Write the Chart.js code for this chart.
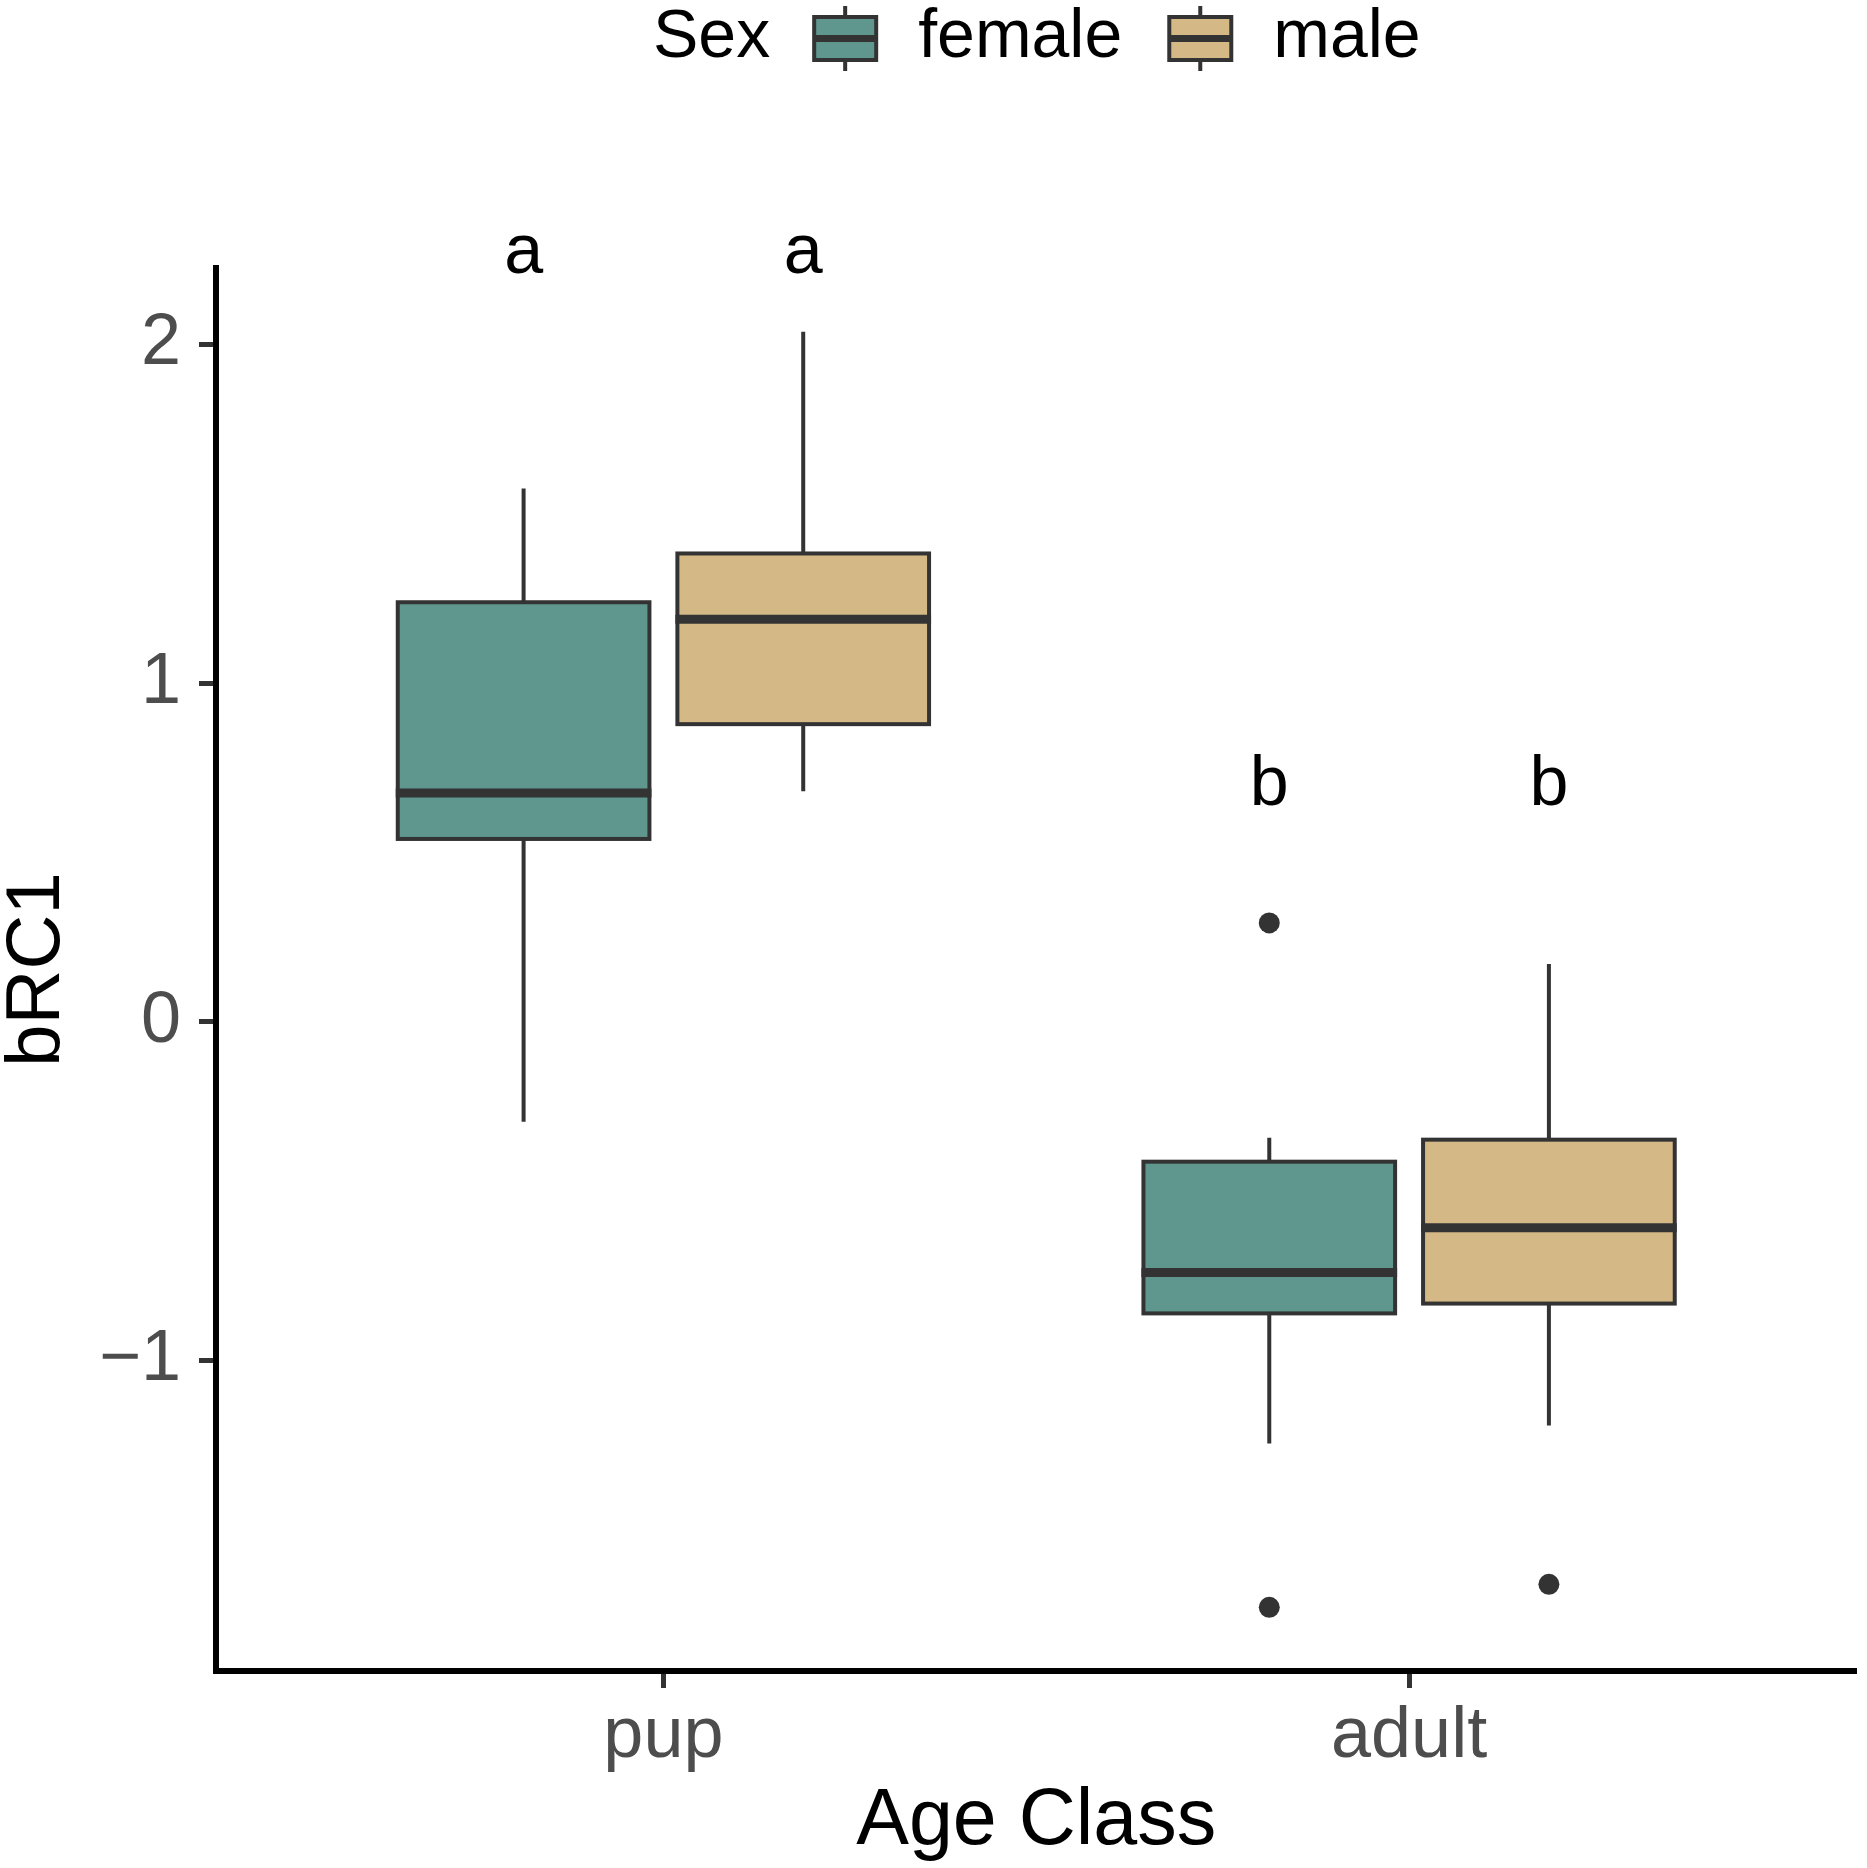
<!DOCTYPE html>
<html>
<head>
<meta charset="utf-8">
<script src="https://cdn.jsdelivr.net/npm/chart.js@4.4.0/dist/chart.umd.min.js"></script>
<style>
  html, body { margin: 0; padding: 0; background: #ffffff; }
  canvas { display: block; }
</style>
</head>
<body>
<canvas id="c" width="1867" height="1868"></canvas>
<script>
// ---------------- data ----------------
const ageClasses = ['pup', 'adult'];
const sexGroups = ['female', 'male'];

const femaleLowerWhisker = [-0.295, -1.245];
const femaleQ1           = [0.540, -0.861];
const femaleMedian       = [0.676, -0.740];
const femaleQ3           = [1.239, -0.413];
const femaleUpperWhisker = [1.575, -0.342];
const femaleOutliers     = [[], [0.292, -1.729]];

const maleLowerWhisker = [0.681, -1.192];
const maleQ1           = [0.879, -0.832];
const maleMedian       = [1.189, -0.608];
const maleQ3           = [1.383, -0.348];
const maleUpperWhisker = [2.038, 0.171];
const maleOutliers     = [[], [-1.661]];

const femaleLetters = ['a', 'b'];
const maleLetters   = ['a', 'b'];
const letterY       = [2.21, 0.64];

const yTickValues = [-1, 0, 1, 2];
const yLimits = [-1.917, 2.226];

// ---------------- style ----------------
const FONT = "'Liberation Sans', Arial, Helvetica, sans-serif";
const OUTLINE = '#333333';
const femaleColor = '#5F968E';
const maleColor = '#D4B886';
const DODGE = 0.1875;
const HALF_BOX = 0.16875;

const series = [
  { name: sexGroups[0], offset: -DODGE, color: femaleColor, lo: femaleLowerWhisker, q1: femaleQ1,
    med: femaleMedian, q3: femaleQ3, hi: femaleUpperWhisker, out: femaleOutliers, letters: femaleLetters },
  { name: sexGroups[1], offset: DODGE, color: maleColor, lo: maleLowerWhisker, q1: maleQ1,
    med: maleMedian, q3: maleQ3, hi: maleUpperWhisker, out: maleOutliers, letters: maleLetters }
];

const outlierDatasets = series.map(s => ({
  label: s.name,
  data: ageClasses.flatMap((a, i) => s.out[i].map(v => ({ x: i + 1 + s.offset, y: v }))),
  pointRadius: 10.5,
  pointHoverRadius: 10.5,
  pointBackgroundColor: OUTLINE,
  pointBorderWidth: 0,
  showLine: false,
  clip: false
}));

function fmtTick(v) {
  return v < 0 ? '\u2212' + Math.abs(v) : String(v);
}

function drawKey(ctx, x, color) {
  const w = 62, top = 17, bot = 60, cx = x + w / 2;
  ctx.strokeStyle = OUTLINE;
  ctx.lineWidth = 4;
  ctx.beginPath();
  ctx.moveTo(cx, 6); ctx.lineTo(cx, top);
  ctx.moveTo(cx, bot); ctx.lineTo(cx, 71);
  ctx.stroke();
  ctx.fillStyle = color;
  ctx.fillRect(x, top, w, bot - top);
  ctx.strokeRect(x, top, w, bot - top);
  ctx.lineWidth = 7;
  ctx.beginPath();
  ctx.moveTo(x, (top + bot) / 2); ctx.lineTo(x + w, (top + bot) / 2);
  ctx.stroke();
}

const boxPlugin = {
  id: 'boxes',
  beforeDatasetsDraw(chart) {
    const { ctx } = chart;
    const x = chart.scales.x, y = chart.scales.y;
    ctx.save();
    series.forEach(s => {
      ageClasses.forEach((age, i) => {
        const c = i + 1 + s.offset;
        const xc = x.getPixelForValue(c);
        const xl = x.getPixelForValue(c - HALF_BOX);
        const xr = x.getPixelForValue(c + HALF_BOX);
        const yLo = y.getPixelForValue(s.lo[i]);
        const yQ1 = y.getPixelForValue(s.q1[i]);
        const yMed = y.getPixelForValue(s.med[i]);
        const yQ3 = y.getPixelForValue(s.q3[i]);
        const yHi = y.getPixelForValue(s.hi[i]);
        ctx.strokeStyle = OUTLINE;
        ctx.lineCap = 'butt';
        ctx.lineWidth = 4;
        ctx.beginPath();
        ctx.moveTo(xc, yHi); ctx.lineTo(xc, yQ3);
        ctx.moveTo(xc, yQ1); ctx.lineTo(xc, yLo);
        ctx.stroke();
        ctx.fillStyle = s.color;
        ctx.fillRect(xl, yQ3, xr - xl, yQ1 - yQ3);
        ctx.strokeRect(xl, yQ3, xr - xl, yQ1 - yQ3);
        ctx.lineWidth = 9;
        ctx.beginPath();
        ctx.moveTo(xl - 2, yMed); ctx.lineTo(xr + 2, yMed);
        ctx.stroke();
      });
    });
    ctx.restore();
  },
  afterDraw(chart) {
    const { ctx } = chart;
    const x = chart.scales.x, y = chart.scales.y;
    ctx.save();
    // significance letters
    ctx.fillStyle = '#000000';
    ctx.font = '70px ' + FONT;
    ctx.textAlign = 'center';
    ctx.textBaseline = 'alphabetic';
    series.forEach(s => {
      ageClasses.forEach((age, i) => {
        ctx.fillText(s.letters[i], x.getPixelForValue(i + 1 + s.offset), y.getPixelForValue(letterY[i]));
      });
    });
    // legend
    ctx.font = '68px ' + FONT;
    ctx.textAlign = 'left';
    let lx = 653;
    const base = 57;
    ctx.fillStyle = '#000000';
    ctx.fillText('Sex', lx, base);
    lx += ctx.measureText('Sex').width + 44;
    series.forEach((s, k) => {
      drawKey(ctx, lx, s.color);
      lx += 62 + 42;
      ctx.fillStyle = '#000000';
      ctx.font = '68px ' + FONT;
      ctx.fillText(s.name, lx, base);
      lx += ctx.measureText(s.name).width + 47;
    });
    ctx.restore();
  }
};

new Chart(document.getElementById('c'), {
  type: 'scatter',
  data: { datasets: outlierDatasets },
  plugins: [boxPlugin],
  options: {
    responsive: false,
    devicePixelRatio: 1,
    animation: false,
    layout: { padding: { left: 0, right: 2, top: 268, bottom: 0 } },
    plugins: {
      legend: { display: false },
      tooltip: { enabled: false },
      title: { display: false }
    },
    scales: {
      x: {
        type: 'linear',
        min: 0.4,
        max: 2.6,
        afterBuildTicks(scale) { scale.ticks = ageClasses.map((a, i) => ({ value: i + 1 })); },
        afterFit(scale) { scale.height = 197; },
        ticks: {
          callback: (v, idx) => ageClasses[idx],
          font: { family: FONT, size: 72 },
          color: '#4D4D4D',
          padding: 6,
          maxRotation: 0,
          autoSkip: false
        },
        grid: {
          display: true,
          drawOnChartArea: false,
          drawTicks: true,
          tickLength: 17,
          tickColor: OUTLINE,
          tickWidth: 5
        },
        border: { display: true, color: '#000000', width: 6 },
        title: {
          display: true,
          text: 'Age Class',
          color: '#000000',
          font: { family: FONT, size: 79, lineHeight: 1 },
          padding: { top: 0, bottom: 6 }
        }
      },
      y: {
        type: 'linear',
        min: yLimits[0],
        max: yLimits[1],
        afterBuildTicks(scale) { scale.ticks = yTickValues.map(v => ({ value: v })); },
        afterFit(scale) { scale.width = 216; },
        ticks: {
          callback: (v) => fmtTick(v),
          font: { family: FONT, size: 72 },
          color: '#4D4D4D',
          padding: 18
        },
        grid: {
          display: true,
          drawOnChartArea: false,
          drawTicks: true,
          tickLength: 17,
          tickColor: OUTLINE,
          tickWidth: 5
        },
        border: { display: true, color: '#000000', width: 6 },
        title: {
          display: true,
          text: 'bRC1',
          color: '#000000',
          font: { family: FONT, size: 76, lineHeight: 1 },
          padding: { top: 0, bottom: 0 }
        }
      }
    }
  }
});
</script>
</body>
</html>
